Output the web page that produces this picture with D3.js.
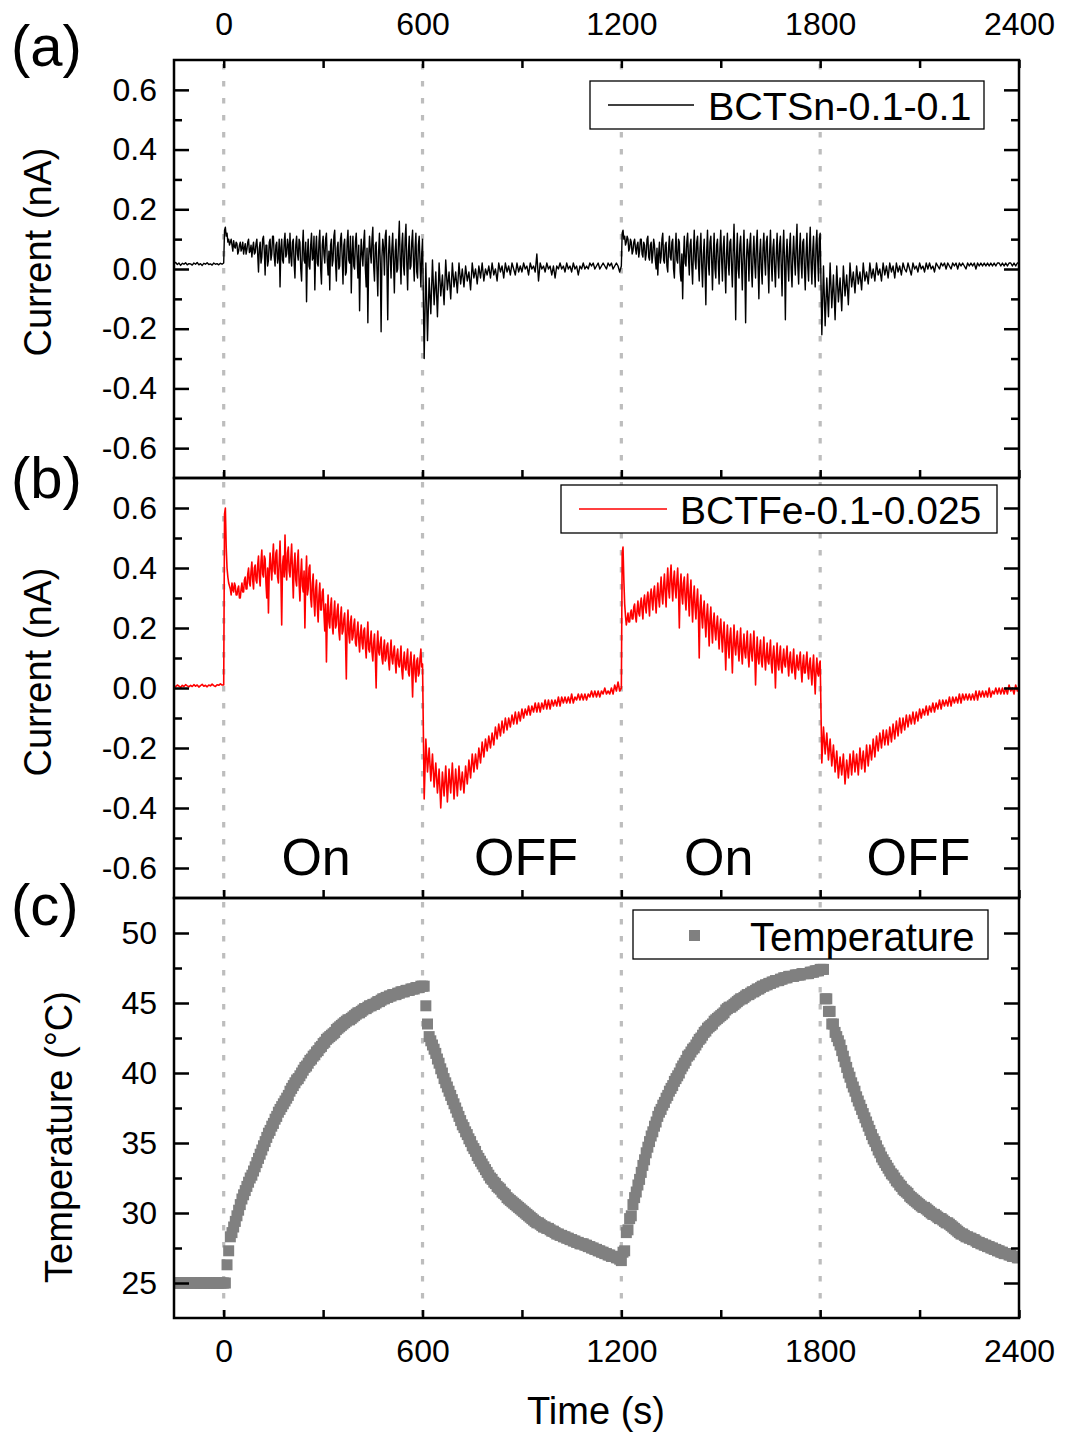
<!DOCTYPE html>
<html><head><meta charset="utf-8">
<script src="https://cdn.jsdelivr.net/npm/d3@7"></script>
<style>
body{margin:0;background:#fff}
svg{display:block}
text{font-family:"Liberation Sans",Arial,Helvetica,sans-serif;fill:#000}
</style>
</head><body>
<svg id="chart" width="1065" height="1434"></svg>
<script>
// ---------------- DATA ----------------
const timeTicks = [0, 600, 1200, 1800, 2400];
const timeMinorTicks = [300, 900, 1500, 2100];
const currentTicks = [-0.6, -0.4, -0.2, 0.0, 0.2, 0.4, 0.6];
const currentMinorTicks = [-0.5, -0.3, -0.1, 0.1, 0.3, 0.5];
const tempTicks = [25, 30, 35, 40, 45, 50];
const tempMinorTicks = [27.5, 32.5, 37.5, 42.5, 47.5];
const switchTimes = [0, 600, 1200, 1800];
const phaseLabels = ["On", "OFF", "On", "OFF"];
const seriesNames = ["BCTSn-0.1-0.1", "BCTFe-0.1-0.025", "Temperature"];

// each row holds evenly spaced samples from rowStarts[k] up to the next row start
// (the last row also includes t = 2400)
const rowStarts = [-150,-100,0,100,200,300,400,500,600,700,800,900,1000,1100,1200,1300,1400,1500,1600,1700,1800,1900,2000,2100,2200,2300];
const lastTime = 2400;

const currentBCTSn = [
 [0.018,0.022,0.015,0.020,0.012,0.019,0.016,0.021,0.014,0.018],
 [0.017,0.013,0.020,0.016,0.022,0.014,0.018,0.012,0.019,0.016,0.021,0.015,0.017,0.013,0.020,0.016,0.018,0.014,0.019,0.016],
 [0.020,0.13,0.14,0.11,0.12,0.09,0.10,0.08,0.09,0.10,0.08,0.06,0.095,0.075,0.07,0.09,0.085,0.05,0.06,0.08,0.09,0.06,0.07,0.09,0.05,0.07,0.085,0.05,0.065,0.09,0.10,0.055,0.06,0.08,0.04,0.07,0.09,0.05,0.055,0.085],
 [0.10,0.05,-0.01,0.07,0.09,0.02,0.04,0.10,0.11,0.06,-0.02,0.08,0.08,0.01,0.03,0.09,0.10,0.03,0.05,0.11,0.11,0.04,0.01,0.08,0.09,0.02,0.04,0.10,-0.06,0.07,0.10,0.03,0.02,0.09,0.12,0.04,0.05,0.10,0.08,0.02],
 [0.12,0.04,0.01,0.09,0.10,0.02,-0.03,0.08,0.11,0.05,0.03,0.10,0.09,0.00,-0.04,0.07,0.13,0.03,0.02,0.09,-0.11,0.05,0.10,0.01,0.00,0.08,0.12,0.03,0.04,0.11,-0.07,0.06,0.11,0.02,0.01,0.09,0.13,0.00,-0.05,0.08],
 [0.11,0.05,0.02,0.10,0.12,0.03,-0.02,0.06,-0.07,0.08,0.10,0.01,0.03,0.11,0.13,0.02,-0.04,0.07,0.09,0.00,0.01,0.10,0.12,0.04,-0.05,0.08,0.10,-0.02,-0.01,0.09,0.13,0.03,0.02,0.11,-0.08,0.05,0.11,0.01,0.00,0.09],
 [0.12,0.04,-0.03,0.08,-0.14,0.02,0.10,0.05,0.01,0.09,0.13,0.00,-0.06,0.07,-0.18,0.03,0.11,0.06,0.02,0.10,0.14,0.01,-0.04,0.08,0.09,0.00,-0.09,0.06,0.12,0.02,-0.21,0.04,0.10,0.07,-0.02,0.11,0.13,0.01,-0.17,0.05],
 [0.11,0.04,-0.03,0.07,0.12,0.02,-0.08,0.06,0.10,-0.01,0.00,0.09,0.16,0.03,-0.05,0.08,0.12,0.01,-0.02,0.10,0.15,0.02,-0.07,0.06,0.11,0.00,0.01,0.09,0.13,0.03,-0.04,0.07,0.12,-0.01,-0.03,0.08,0.11,0.02,-0.06,0.05],
 [0.10,-0.30,0.02,-0.24,-0.03,-0.15,0.03,-0.12,-0.01,-0.16,0.02,-0.09,-0.02,-0.12,0.03,-0.07,-0.01,-0.10,0.02,-0.06],
 [-0.01,-0.08,0.02,-0.05,0.00,-0.06,0.01,-0.04,-0.01,-0.07,0.02,-0.03,0.00,-0.05,0.01,-0.03,0.02,-0.04,0.00,-0.02],
 [0.01,-0.03,0.02,-0.02,0.00,-0.04,0.02,-0.01,0.01,-0.03,0.02,-0.01,0.01,-0.02,0.02,0.00,-0.02,0.02,-0.01,0.01],
 [-0.01,0.02,0.00,0.01,-0.02,0.02,0.00,0.01,-0.01,0.05,-0.04,0.02,0.00,0.01,-0.01,0.02,0.00,0.01,-0.02,0.01],
 [-0.03,0.01,0.00,0.02,0.00,0.01,-0.01,0.02,0.00,0.01,-0.01,0.02,0.00,0.01,-0.02,0.01,0.00,0.02,0.00,0.01],
 [0.00,0.02,0.01,0.02,0.00,0.01,0.02,0.00,0.01,0.02,0.01,0.00,0.02,0.01,0.02,0.00,0.01,0.02,0.01,-0.01],
 [0.01,0.12,0.13,0.10,0.11,0.08,0.09,0.11,0.10,0.06,0.07,0.10,0.09,0.05,0.06,0.09,0.10,0.07,0.05,0.08,0.09,0.04,0.06,0.10,0.10,0.05,0.04,0.09,0.08,0.03,0.05,0.10,0.11,0.04,0.03,0.08,0.09,0.02,0.05,0.10],
 [0.08,0.03,0.00,0.07,-0.02,0.05,0.09,0.02,0.04,0.10,0.12,0.03,0.02,0.08,0.09,0.01,-0.01,0.07,0.11,0.04,0.03,0.09,0.10,0.00,-0.03,0.06,0.12,0.03,0.02,0.10,0.09,-0.01,-0.04,0.05,-0.10,0.04,0.11,0.02,0.01,0.09],
 [0.12,0.04,-0.02,0.08,0.10,0.01,-0.05,0.06,0.13,0.03,0.00,0.09,0.11,0.02,-0.04,0.07,0.12,0.01,-0.06,0.05,0.10,0.00,-0.12,0.06,0.13,0.02,-0.02,0.09,0.11,0.03,-0.07,0.05,0.12,0.00,-0.03,0.08,0.10,0.02,-0.05,0.07],
 [0.13,0.03,-0.04,0.07,0.11,0.00,-0.08,0.05,0.12,0.02,-0.02,0.09,0.10,0.01,-0.06,0.06,0.15,0.03,-0.17,0.04,0.12,0.00,-0.03,0.08,0.11,0.02,-0.07,0.05,0.13,0.01,-0.18,0.03,0.10,0.06,-0.04,0.08,0.12,0.00,-0.06,0.05],
 [0.11,0.02,-0.03,0.08,0.13,0.01,-0.10,0.05,0.10,0.00,-0.05,0.07,0.12,0.03,-0.02,0.09,0.11,0.01,-0.08,0.06,0.13,0.02,-0.04,0.07,0.10,0.00,-0.06,0.05,0.12,0.03,-0.03,0.08,0.11,0.01,-0.09,0.06,0.13,0.02,-0.17,0.04],
 [0.10,0.02,-0.04,0.07,0.12,0.00,-0.06,0.05,0.11,0.03,-0.02,0.08,0.15,0.01,-0.05,0.06,0.12,0.02,-0.03,0.09,0.10,0.00,-0.07,0.05,0.12,0.01,-0.04,0.07,0.14,0.02,-0.05,0.06,0.11,0.00,-0.06,0.08,0.13,0.03,-0.04,0.10],
 [0.12,-0.22,0.01,-0.19,-0.03,-0.16,0.02,-0.13,-0.02,-0.17,0.01,-0.11,-0.03,-0.14,0.01,-0.09,-0.02,-0.12,0.02,-0.06],
 [-0.01,-0.08,0.01,-0.05,-0.01,-0.07,0.02,-0.04,-0.01,-0.05,0.02,-0.03,0.00,-0.04,0.02,-0.02,0.00,-0.04,0.02,-0.02],
 [0.01,-0.03,0.02,-0.01,0.01,-0.03,0.02,-0.01,0.01,-0.02,0.02,0.00,-0.01,0.02,0.00,-0.02,0.02,0.00,0.01,-0.01],
 [0.02,0.00,0.01,-0.01,0.02,0.00,0.02,0.00,0.01,-0.01,0.02,0.01,0.00,0.02,0.01,0.02,0.00,0.02,0.01,0.00],
 [0.02,0.01,0.02,0.00,0.02,0.01,0.02,0.01,0.00,0.02,0.01,0.02,0.01,0.02,0.00,0.02,0.01,0.02,0.01,0.02],
 [0.01,0.02,0.01,0.02,0.01,0.02,0.01,0.02,0.02,0.01,0.02,0.01,0.02,0.01,0.02,0.02,0.01,0.02,0.01,0.02,0.02]
];

const currentBCTFe = [
 [0.008,0.004,0.010,0.006,0.002,0.009,0.005,0.011,0.007,0.004],
 [0.009,0.005,0.011,0.006,0.010,0.003,0.008,0.012,0.006,0.009,0.004,0.010,0.007,0.013,0.008,0.005,0.011,0.009,0.014,0.010],
 [0.01,0.58,0.60,0.47,0.40,0.37,0.35,0.34,0.33,0.31,0.35,0.33,0.32,0.35,0.34,0.31,0.31,0.33,0.34,0.30,0.30,0.33,0.35,0.32,0.32,0.36,0.37,0.33,0.33,0.38,0.40,0.35,0.34,0.39,0.42,0.36,0.33,0.40,0.41,0.36],
 [0.35,0.41,0.44,0.37,0.34,0.42,0.46,0.38,0.37,0.44,0.43,0.35,0.30,0.40,0.25,0.39,0.45,0.40,0.36,0.43,0.48,0.39,0.38,0.45,0.46,0.37,0.35,0.42,0.49,0.38,0.21,0.41,0.44,0.37,0.51,0.40,0.36,0.45,0.47,0.39],
 [0.37,0.43,0.48,0.39,0.30,0.41,0.45,0.36,0.34,0.42,0.46,0.35,0.29,0.38,0.43,0.34,0.32,0.39,0.20,0.36,0.44,0.31,0.33,0.40,0.41,0.30,0.27,0.35,0.38,0.29,0.24,0.33,0.36,0.27,0.22,0.31,0.35,0.26,0.26,0.32],
 [0.33,0.25,0.19,0.28,0.087,0.24,0.31,0.22,0.20,0.27,0.30,0.21,0.18,0.25,0.29,0.20,0.21,0.26,0.28,0.19,0.16,0.24,0.27,0.18,0.19,0.23,0.25,0.17,0.03,0.21,0.26,0.18,0.15,0.22,0.24,0.16,0.17,0.21,0.23,0.15],
 [0.14,0.19,0.22,0.16,0.12,0.18,0.21,0.15,0.13,0.19,0.20,0.14,0.10,0.17,0.22,0.13,0.12,0.16,0.19,0.12,0.09,0.15,0.18,0.11,0.00,0.14,0.19,0.12,0.11,0.15,0.17,0.10,0.08,0.13,0.16,0.09,0.10,0.14,0.15,0.09],
 [0.06,0.12,0.16,0.10,0.08,0.12,0.14,0.09,0.05,0.11,0.13,0.08,0.07,0.10,0.14,0.06,0.03,0.09,0.12,0.07,0.06,0.10,0.13,0.05,0.04,0.09,0.12,0.06,-0.03,0.08,0.11,0.05,0.02,0.09,0.10,0.04,0.05,0.10,0.13,0.07],
 [0.08,-0.37,-0.17,-0.28,-0.20,-0.31,-0.22,-0.33,-0.25,-0.35,-0.27,-0.40,-0.28,-0.36,-0.26,-0.38,-0.27,-0.35,-0.25,-0.37],
 [-0.27,-0.36,-0.26,-0.34,-0.28,-0.35,-0.26,-0.32,-0.24,-0.30,-0.22,-0.28,-0.22,-0.27,-0.20,-0.25,-0.18,-0.23,-0.17,-0.21],
 [-0.16,-0.20,-0.15,-0.19,-0.13,-0.17,-0.12,-0.16,-0.11,-0.15,-0.10,-0.14,-0.10,-0.13,-0.09,-0.12,-0.08,-0.12,-0.08,-0.11],
 [-0.07,-0.10,-0.07,-0.09,-0.06,-0.09,-0.06,-0.08,-0.05,-0.08,-0.05,-0.08,-0.05,-0.07,-0.04,-0.07,-0.04,-0.07,-0.04,-0.06],
 [-0.04,-0.06,-0.03,-0.06,-0.03,-0.05,-0.03,-0.05,-0.03,-0.05,-0.02,-0.05,-0.03,-0.04,-0.02,-0.04,-0.02,-0.04,-0.02,-0.04],
 [-0.02,-0.03,-0.01,-0.03,-0.01,-0.03,-0.01,-0.03,-0.01,-0.02,0.00,-0.02,-0.01,-0.02,0.00,-0.02,0.01,-0.01,0.02,-0.01],
 [0.00,0.45,0.47,0.36,0.28,0.24,0.21,0.23,0.25,0.22,0.22,0.25,0.26,0.23,0.23,0.27,0.28,0.24,0.22,0.26,0.29,0.25,0.24,0.28,0.30,0.26,0.23,0.29,0.31,0.27,0.25,0.30,0.32,0.28,0.24,0.31,0.33,0.29,0.26,0.32],
 [0.34,0.29,0.25,0.31,0.35,0.30,0.27,0.33,0.37,0.31,0.28,0.34,0.38,0.32,0.27,0.35,0.40,0.33,0.30,0.37,0.41,0.34,0.29,0.36,0.39,0.33,0.30,0.36,0.40,0.32,0.20,0.34,0.38,0.31,0.28,0.35,0.37,0.30,0.26,0.33],
 [0.38,0.30,0.24,0.32,0.36,0.28,0.22,0.30,0.34,0.27,0.23,0.29,0.33,0.25,0.10,0.27,0.31,0.24,0.20,0.26,0.29,0.22,0.17,0.24,0.28,0.21,0.14,0.23,0.27,0.20,0.15,0.22,0.25,0.19,0.16,0.21,0.24,0.18,0.13,0.20],
 [0.23,0.17,0.12,0.18,0.22,0.15,0.06,0.16,0.21,0.14,0.10,0.17,0.20,0.13,0.05,0.15,0.21,0.14,0.11,0.16,0.19,0.13,0.09,0.15,0.20,0.12,0.08,0.14,0.18,0.12,0.10,0.15,0.19,0.11,0.07,0.13,0.18,0.12,0.09,0.14],
 [0.19,0.12,0.01,0.11,0.17,0.10,0.08,0.13,0.16,0.09,0.07,0.12,0.17,0.10,0.06,0.11,0.15,0.09,0.08,0.12,0.16,0.08,0.05,0.11,0.14,0.09,0.00,0.10,0.15,0.08,0.06,0.11,0.14,0.07,0.05,0.10,0.13,0.08,0.07,0.11],
 [0.14,0.08,0.04,0.10,0.12,0.07,0.05,0.09,0.13,0.06,0.03,0.08,0.11,0.07,0.06,0.10,0.12,0.06,0.02,0.08,0.11,0.05,0.05,0.09,0.12,0.06,0.03,0.08,0.10,0.05,0.01,0.07,0.11,0.04,-0.02,0.06,0.10,0.05,0.04,0.08],
 [0.09,-0.25,-0.13,-0.22,-0.15,-0.24,-0.17,-0.26,-0.19,-0.28,-0.21,-0.30,-0.23,-0.29,-0.22,-0.32,-0.24,-0.30,-0.22,-0.29],
 [-0.21,-0.28,-0.22,-0.29,-0.20,-0.27,-0.21,-0.28,-0.19,-0.26,-0.19,-0.24,-0.17,-0.23,-0.16,-0.21,-0.15,-0.20,-0.14,-0.19],
 [-0.14,-0.19,-0.13,-0.18,-0.12,-0.17,-0.11,-0.16,-0.10,-0.15,-0.10,-0.14,-0.09,-0.13,-0.09,-0.12,-0.08,-0.12,-0.08,-0.11],
 [-0.07,-0.10,-0.07,-0.09,-0.06,-0.09,-0.06,-0.08,-0.05,-0.08,-0.05,-0.07,-0.04,-0.07,-0.04,-0.06,-0.04,-0.06,-0.03,-0.06],
 [-0.03,-0.05,-0.03,-0.05,-0.02,-0.05,-0.02,-0.04,-0.02,-0.04,-0.02,-0.04,-0.02,-0.04,-0.01,-0.04,-0.01,-0.03,-0.01,-0.03],
 [-0.01,-0.03,0.00,-0.03,-0.01,-0.02,0.00,-0.02,0.00,-0.02,0.00,-0.02,0.00,-0.02,0.01,-0.01,0.00,-0.02,0.01,-0.01,0.00]
];

const temperature = [
 [25.0,25.0,25.0,25.0,25.0,25.0,25.0,25.0,25.0,25.0],
 [25.0,25.0,25.0,25.0,25.0,25.0,25.0,25.0,25.0,25.0,25.0,25.0,25.0,25.0,25.0,25.0,25.0,25.0,25.0,25.0],
 [25.0,25.0,26.3,27.3,28.3,28.6,29.0,29.4,29.8,30.2,30.6,31.0,31.3,31.6,31.9,32.2,32.5,32.7,33.0,33.3],
 [33.6,33.9,34.2,34.5,34.8,35.1,35.4,35.7,35.9,36.2,36.4,36.7,36.9,37.2,37.4,37.6,37.8,38.0,38.2,38.4],
 [38.7,38.9,39.1,39.3,39.5,39.6,39.8,40.0,40.2,40.4,40.5,40.7,40.9,41.0,41.2,41.3,41.5,41.6,41.8,41.9],
 [42.1,42.2,42.4,42.5,42.6,42.7,42.8,42.9,43.1,43.2,43.3,43.4,43.5,43.6,43.7,43.8,43.8,43.9,44.0,44.1],
 [44.2,44.3,44.3,44.4,44.5,44.6,44.6,44.7,44.8,44.8,44.9,44.9,45.0,45.1,45.1,45.2,45.3,45.3,45.4,45.4],
 [45.5,45.5,45.6,45.6,45.6,45.7,45.7,45.8,45.8,45.8,45.9,45.9,45.9,46.0,46.0,46.0,46.1,46.1,46.1,46.2],
 [46.2,46.2,44.8,43.5,42.6,42.3,42.0,41.7,41.4,41.0,40.7,40.3,40.0,39.6,39.3,39.0,38.7,38.4,38.1,37.8],
 [37.5,37.2,36.9,36.6,36.3,36.1,35.8,35.6,35.3,35.1,34.8,34.6,34.4,34.1,33.9,33.7,33.5,33.3,33.1,32.9],
 [32.7,32.5,32.4,32.2,32.1,31.9,31.8,31.7,31.5,31.4,31.3,31.1,31.0,30.9,30.8,30.7,30.6,30.5,30.4,30.3],
 [30.2,30.1,30.0,29.9,29.8,29.7,29.6,29.5,29.4,29.3,29.3,29.2,29.1,29.0,29.0,28.9,28.9,28.8,28.7,28.7],
 [28.6,28.5,28.5,28.4,28.4,28.3,28.3,28.2,28.2,28.1,28.1,28.0,28.0,27.9,27.9,27.8,27.8,27.8,27.7,27.7],
 [27.6,27.6,27.5,27.5,27.4,27.4,27.3,27.3,27.2,27.2,27.1,27.1,27.0,27.0,26.9,26.9,26.9,26.8,26.8,26.7],
 [26.6,27.2,27.3,28.6,28.8,29.6,29.8,30.6,31.1,31.5,32.0,32.4,32.9,33.4,33.8,34.3,34.7,35.1,35.5,35.8],
 [36.2,36.5,36.9,37.2,37.4,37.7,37.9,38.2,38.4,38.7,38.9,39.1,39.4,39.6,39.8,40.0,40.3,40.5,40.7,40.9],
 [41.2,41.3,41.5,41.7,41.8,42.0,42.2,42.4,42.5,42.7,42.9,43.0,43.2,43.3,43.4,43.5,43.7,43.8,43.9,44.0],
 [44.1,44.2,44.3,44.5,44.6,44.7,44.7,44.8,44.9,45.0,45.1,45.2,45.3,45.3,45.4,45.5,45.6,45.6,45.7,45.8],
 [45.8,45.9,46.0,46.0,46.1,46.2,46.2,46.3,46.3,46.4,46.4,46.5,46.5,46.6,46.6,46.6,46.7,46.7,46.8,46.8],
 [46.8,46.9,46.9,46.9,46.9,47.0,47.0,47.0,47.0,47.1,47.1,47.1,47.1,47.1,47.2,47.2,47.2,47.3,47.3,47.3],
 [47.4,47.4,47.4,45.3,45.3,44.4,44.4,43.5,43.5,42.9,42.6,42.3,42.0,41.6,41.2,40.8,40.4,40.0,39.7,39.3],
 [39.0,38.7,38.3,38.0,37.7,37.4,37.1,36.8,36.5,36.2,35.9,35.6,35.3,35.1,34.8,34.5,34.3,34.0,33.8,33.6],
 [33.4,33.2,33.0,32.8,32.7,32.5,32.3,32.2,32.0,31.9,31.7,31.6,31.5,31.4,31.2,31.1,31.0,30.9,30.8,30.7],
 [30.6,30.5,30.4,30.4,30.3,30.2,30.1,30.0,29.9,29.9,29.8,29.7,29.6,29.6,29.5,29.4,29.3,29.3,29.2,29.1],
 [29.0,28.9,28.8,28.7,28.6,28.5,28.5,28.4,28.3,28.3,28.2,28.2,28.1,28.1,28.0,27.9,27.9,27.8,27.8,27.7],
 [27.7,27.6,27.6,27.5,27.5,27.4,27.4,27.3,27.3,27.2,27.2,27.1,27.1,27.1,27.0,27.0,26.9,26.9,26.9,26.8,26.8]
];

// ---------------- BUILD ----------------
function toPoints(rows) {
  const last = rows.length - 1;
  return rows.flatMap((row, k) => {
    const t0 = rowStarts[k];
    const t1 = k < last ? rowStarts[k + 1] : lastTime;
    const step = (t1 - t0) / (k < last ? row.length : row.length - 1);
    return row.map((v, i) => ({ t: t0 + i * step, v }));
  });
}
const dataA = toPoints(currentBCTSn);
const dataB = toPoints(currentBCTFe);
const dataC = toPoints(temperature);

const svg = d3.select("#chart");
const L = 174, R = 1019;
const panels = [
  { top: 60,  bottom: 478 },
  { top: 478, bottom: 898 },
  { top: 898, bottom: 1318 }
];

const x = d3.scaleLinear().domain([-150, 2400]).range([L, R]);
const yA = d3.scaleLinear().domain([-0.7, 0.7]).range([panels[0].bottom, panels[0].top]);
const yB = d3.scaleLinear().domain([-0.7, 0.7]).range([panels[1].bottom, panels[1].top]);
const yC = d3.scaleLinear().domain([22.5, 52.5]).range([panels[2].bottom, panels[2].top]);

const defs = svg.append("defs");
panels.forEach((p, i) => {
  defs.append("clipPath").attr("id", "clip" + i)
    .append("rect").attr("x", L).attr("y", p.top).attr("width", R - L).attr("height", p.bottom - p.top);
});

// dotted switch lines
panels.forEach((p) => {
  svg.append("g").selectAll("line").data(switchTimes).join("line")
    .attr("x1", d => x(d)).attr("x2", d => x(d))
    .attr("y1", p.top + 4).attr("y2", p.bottom)
    .attr("stroke", "#bdbdbd").attr("stroke-width", 3.2)
    .attr("stroke-dasharray", "5.5 11.5");
});

// current traces
const lineA = d3.line().x(d => x(d.t)).y(d => yA(d.v));
const lineB = d3.line().x(d => x(d.t)).y(d => yB(d.v));
svg.append("path").datum(dataA).attr("clip-path", "url(#clip0)")
  .attr("d", lineA).attr("fill", "none").attr("stroke", "#000").attr("stroke-width", 1.4).attr("stroke-linejoin", "round");
svg.append("path").datum(dataB).attr("clip-path", "url(#clip1)")
  .attr("d", lineB).attr("fill", "none").attr("stroke", "#ff0000").attr("stroke-width", 1.6).attr("stroke-linejoin", "round");

// temperature squares
const sq = 11;
svg.append("g").attr("clip-path", "url(#clip2)").selectAll("rect").data(dataC).join("rect")
  .attr("x", d => x(d.t) - sq / 2).attr("y", d => yC(d.v) - sq / 2)
  .attr("width", sq).attr("height", sq).attr("fill", "#808080");

// phase labels in panel b
const labelNudge = [-7, 4, -2, -1];
svg.append("g").selectAll("text").data(phaseLabels).join("text")
  .attr("x", (d, i) => x((switchTimes[i] + (switchTimes[i + 1] !== undefined ? switchTimes[i + 1] : lastTime)) / 2) + labelNudge[i])
  .attr("y", 875).attr("text-anchor", "middle").attr("font-size", 52).text(d => d);

// ---------------- AXES ----------------
function styleAxis(g, fs) {
  g.select(".domain").remove();
  g.selectAll(".tick line").attr("stroke", "#000").attr("stroke-width", 2.5);
  g.selectAll("text").attr("font-size", fs).attr("fill", "#000")
    .style("font-family", '"Liberation Sans",Arial,sans-serif');
}
const fmtCur = d => d3.format(".1f")(d).replace("−", "-");

// panel a top axis with labels
svg.append("g").attr("transform", `translate(0,${panels[0].top})`)
  .call(d3.axisTop(x).tickValues(timeTicks).tickSize(-8).tickPadding(25).tickFormat(d3.format("d")))
  .call(g => styleAxis(g, 32));
svg.append("g").attr("transform", `translate(0,${panels[0].top})`)
  .call(d3.axisTop(x).tickValues(timeMinorTicks).tickSize(-8).tickFormat(""))
  .call(g => styleAxis(g, 32));
// bottom ticks of each panel (inward)
panels.forEach((p, i) => {
  const ax = d3.axisBottom(x).tickValues(timeTicks).tickSize(-8).tickPadding(21)
    .tickFormat(i === 2 ? d3.format("d") : "");
  svg.append("g").attr("transform", `translate(0,${p.bottom})`).call(ax).call(g => styleAxis(g, 32));
  svg.append("g").attr("transform", `translate(0,${p.bottom})`)
    .call(d3.axisBottom(x).tickValues(timeMinorTicks).tickSize(-8).tickFormat(""))
    .call(g => styleAxis(g, 32));
});

// y axes
function yAxes(scale, major, minor, fmt) {
  svg.append("g").attr("transform", `translate(${L},0)`)
    .call(d3.axisLeft(scale).tickValues(major).tickSize(-15).tickPadding(17).tickFormat(fmt))
    .call(g => styleAxis(g, 32));
  svg.append("g").attr("transform", `translate(${L},0)`)
    .call(d3.axisLeft(scale).tickValues(minor).tickSize(-8).tickFormat(""))
    .call(g => styleAxis(g, 32));
  svg.append("g").attr("transform", `translate(${R},0)`)
    .call(d3.axisRight(scale).tickValues(major).tickSize(-15).tickFormat(""))
    .call(g => styleAxis(g, 32));
  svg.append("g").attr("transform", `translate(${R},0)`)
    .call(d3.axisRight(scale).tickValues(minor).tickSize(-8).tickFormat(""))
    .call(g => styleAxis(g, 32));
}
yAxes(yA, currentTicks, currentMinorTicks, fmtCur);
yAxes(yB, currentTicks, currentMinorTicks, fmtCur);
yAxes(yC, tempTicks, tempMinorTicks, d3.format("d"));

// frames
panels.forEach(p => {
  svg.append("rect").attr("x", L).attr("y", p.top).attr("width", R - L).attr("height", p.bottom - p.top)
    .attr("fill", "none").attr("stroke", "#000").attr("stroke-width", 2.5);
});

// axis titles
svg.append("text").attr("transform", "translate(51,252) rotate(-90)")
  .attr("text-anchor", "middle").attr("font-size", 38).text("Current (nA)");
svg.append("text").attr("transform", "translate(51,672) rotate(-90)")
  .attr("text-anchor", "middle").attr("font-size", 38).text("Current (nA)");
svg.append("text").attr("transform", "translate(72,1137) rotate(-90)")
  .attr("text-anchor", "middle").attr("font-size", 38).text("Temperature (°C)");
svg.append("text").attr("x", 596).attr("y", 1424)
  .attr("text-anchor", "middle").attr("font-size", 38).text("Time (s)");

// panel letters
[["(a)", 66], ["(b)", 498], ["(c)", 925]].forEach(([s, yy]) => {
  svg.append("text").attr("x", 11).attr("y", yy).attr("font-size", 58).text(s);
});

// legends
function legend(bx, by, bw, bh) {
  const g = svg.append("g");
  g.append("rect").attr("x", bx).attr("y", by).attr("width", bw).attr("height", bh)
    .attr("fill", "#fff").attr("stroke", "#000").attr("stroke-width", 1.3);
  return g;
}
const lgA = legend(590, 81, 394, 48);
lgA.append("line").attr("x1", 608).attr("x2", 694).attr("y1", 105).attr("y2", 105).attr("stroke", "#000").attr("stroke-width", 1.3);
lgA.append("text").attr("x", 708).attr("y", 120).attr("font-size", 39.5).text(seriesNames[0]);

const lgB = legend(561, 485, 436, 48);
lgB.append("line").attr("x1", 579).attr("x2", 667).attr("y1", 509).attr("y2", 509).attr("stroke", "#ff0000").attr("stroke-width", 1.3);
lgB.append("text").attr("x", 680).attr("y", 524).attr("font-size", 39).text(seriesNames[1]);

const lgC = legend(633, 910, 355, 49);
lgC.append("rect").attr("x", 689).attr("y", 930).attr("width", 11).attr("height", 11).attr("fill", "#808080");
lgC.append("text").attr("x", 750).attr("y", 951).attr("font-size", 40).text(seriesNames[2]);
</script>
</body></html>
